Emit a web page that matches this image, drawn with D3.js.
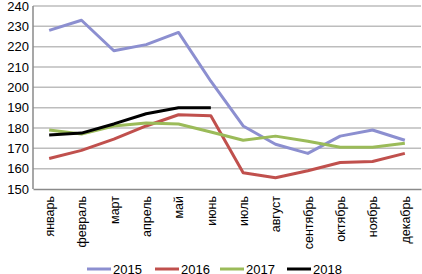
<!DOCTYPE html>
<html>
<head>
<meta charset="utf-8">
<script src="https://cdn.jsdelivr.net/npm/d3@7"></script>
<style>
  html, body { margin: 0; padding: 0; background: #fff; }
  svg { display: block; }
  text { font-family: "Liberation Sans", Arial, sans-serif; fill: #000; }
</style>
</head>
<body>
<svg width="422" height="274"></svg>
<script>
const months = ['январь', 'февраль', 'март', 'апрель', 'май', 'июнь',
  'июль', 'август', 'сентябрь', 'октябрь', 'ноябрь', 'декабрь'];
const years = ['2015', '2016', '2017', '2018'];
const colors = ['#8c8fd0', '#c0504d', '#9bbb59', '#000000'];
const v2015 = [228, 233, 218, 221, 227, 203, 181, 172, 167.5, 176, 179, 174];
const v2016 = [165, 169, 174.5, 181, 186.5, 186, 158, 155.5, 159, 163, 163.5, 167.5];
const v2017 = [179, 177, 181, 182.5, 182, 178, 174, 176, 173.5, 170.5, 170.5, 172.5];
const v2018 = [176.5, 177.5, 182, 187, 190, 190];
const yTicks = [150, 160, 170, 180, 190, 200, 210, 220, 230, 240];

const series = [v2015, v2016, v2017, v2018];

const svg = d3.select('svg');
const margin = { top: 6, right: 1, bottom: 85, left: 33 };
const width = +svg.attr('width');
const height = +svg.attr('height');
const innerWidth = width - margin.left - margin.right;
const innerHeight = height - margin.top - margin.bottom;

const xScale = d3.scalePoint()
  .domain(months)
  .range([0, innerWidth])
  .padding(0.5);

const yScale = d3.scaleLinear()
  .domain([150, 240])
  .range([innerHeight, 0]);

const g = svg.append('g')
  .attr('transform', `translate(${margin.left},${margin.top})`);

// gridlines
g.selectAll('.grid')
  .data(yTicks.slice(1))
  .enter().append('line')
  .attr('x1', 0)
  .attr('x2', innerWidth)
  .attr('y1', d => yScale(d))
  .attr('y2', d => yScale(d))
  .attr('stroke', '#bdbdbd')
  .attr('stroke-width', 1.5);

// y axis
const yAxisG = g.append('g')
  .call(d3.axisLeft(yScale).tickValues(yTicks).tickSize(0).tickPadding(4));
yAxisG.select('.domain').remove();
yAxisG.selectAll('text')
  .style('font-size', '13px');

g.append('line')
  .attr('x1', 0).attr('x2', 0)
  .attr('y1', 0).attr('y2', innerHeight)
  .attr('stroke', '#8a8a8a')
  .attr('stroke-width', 1.5);

// x axis
const xAxisG = g.append('g')
  .attr('transform', `translate(0,${innerHeight})`)
  .call(d3.axisBottom(xScale).tickSize(0).tickPadding(0));
xAxisG.select('.domain')
  .attr('stroke', '#8a8a8a')
  .attr('stroke-width', 1.5);
xAxisG.selectAll('text')
  .style('font-size', '12.5px')
  .attr('text-anchor', 'end')
  .attr('dy', '0.35em')
  .attr('x', -7)
  .attr('y', 0)
  .attr('transform', 'rotate(-90)');

// lines
const lineGenerator = (vals) => d3.line()
  .x((d, i) => xScale(months[i]))
  .y(d => yScale(d))(vals);

series.forEach((vals, i) => {
  g.append('path')
    .attr('d', lineGenerator(vals))
    .attr('fill', 'none')
    .attr('stroke', colors[i])
    .attr('stroke-width', 3)
    .attr('stroke-linejoin', 'round');
});

// legend
const legendX = [87, 155, 220, 287];
const legend = svg.append('g')
  .attr('transform', 'translate(0,269)');
years.forEach((y, i) => {
  legend.append('line')
    .attr('x1', legendX[i]).attr('x2', legendX[i] + 24)
    .attr('y1', 0).attr('y2', 0)
    .attr('stroke', colors[i])
    .attr('stroke-width', 3);
  legend.append('text')
    .attr('x', legendX[i] + 26)
    .attr('y', 0)
    .attr('dy', '0.35em')
    .style('font-size', '13px')
    .text(y);
});
</script>
</body>
</html>
